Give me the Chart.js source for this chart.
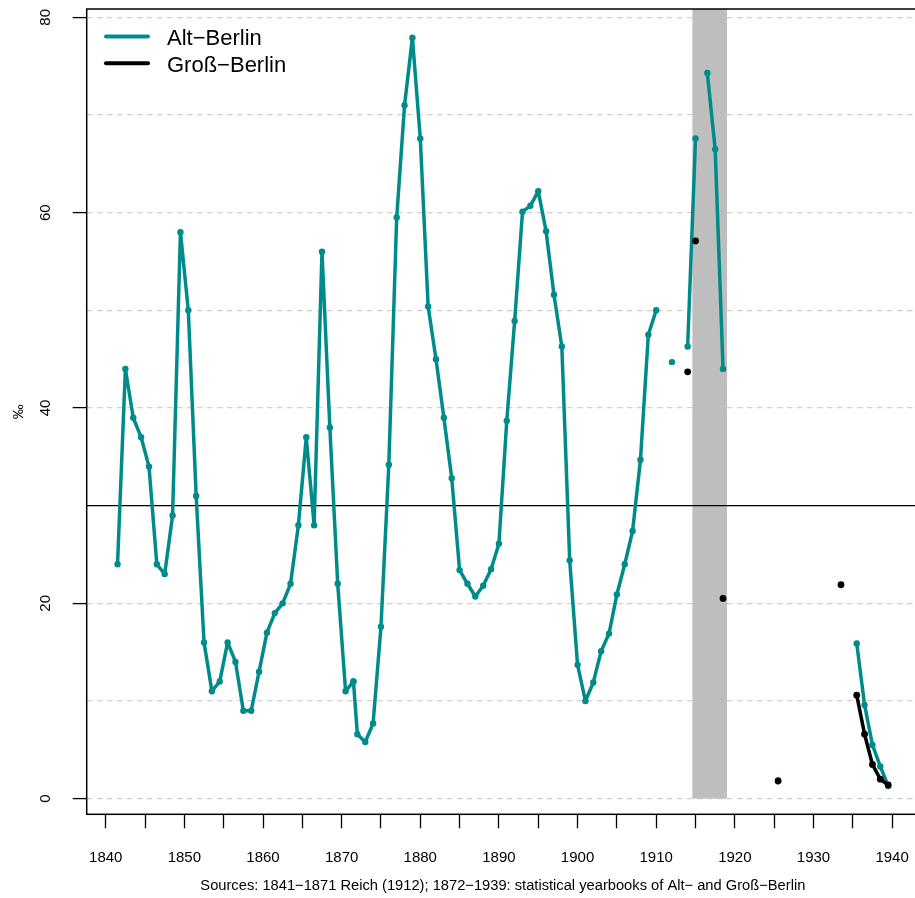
<!DOCTYPE html>
<html>
<head>
<meta charset="utf-8">
<script src="https://cdn.jsdelivr.net/npm/chart.js@4"></script>
<style>
  html, body { margin: 0; padding: 0; background: #fff; overflow: hidden; }
  #wrap { position: absolute; left: 0; top: 0; }
</style>
</head>
<body>
<div id="wrap"><canvas id="chart" width="923" height="898"></canvas></div>
<script>
// Alt-Berlin 1841-1871 (Reich 1912), plotted at mid-year
const reichYears = [1841.5, 1842.5, 1843.5, 1844.5, 1845.5, 1846.5, 1847.5, 1848.5, 1849.5, 1850.5,
                    1851.5, 1852.5, 1853.5, 1854.5, 1855.5, 1856.5, 1857.5, 1858.5, 1859.5, 1860.5,
                    1861.5, 1862.5, 1863.5, 1864.5, 1865.5, 1866.5, 1867.5, 1868.5, 1869.5, 1870.5, 1871.5];
const reichRate = [24, 44, 39, 37, 34, 24, 23, 29, 58, 50,
                   31, 16, 11, 12, 16, 14, 9, 9, 13, 17,
                   19, 20, 22, 28, 37, 28, 56, 38, 22, 11, 12];

// Alt-Berlin from the statistical yearbooks (null = gap in the line)
const altYears = [1872, 1873, 1874, 1875, 1876, 1877, 1878, 1879, 1880, 1881,
                  1882, 1883, 1884, 1885, 1886, 1887, 1888, 1889, 1890, 1891,
                  1892, 1893, 1894, 1895, 1896, 1897, 1898, 1899, 1900, 1901,
                  1902, 1903, 1904, 1905, 1906, 1907, 1908, 1909, 1910, 1911,
                  1912, 1913, 1914, 1915, 1916, 1916.5, 1917.5, 1918.5, 1920, 1925.5,
                  1930, 1935.5, 1936.5, 1937.5, 1938.5, 1939.5];
const altRate = [6.6, 5.8, 7.7, 17.6, 34.2, 59.5, 71.0, 77.9, 67.6, 50.4,
                 45.0, 39.0, 32.8, 23.4, 22.0, 20.7, 21.8, 23.5, 26.1, 38.7,
                 48.9, 60.1, 60.7, 62.2, 58.1, 51.6, 46.3, 24.4, 13.7, 10.0,
                 11.9, 15.1, 16.9, 20.9, 24.0, 27.4, 34.7, 47.5, 50.0, null,
                 44.7, null, 46.3, 67.6, null, 74.3, 66.5, 44.0, null, 1.9,
                 null, 15.9, 9.6, 5.5, 3.3, 1.3];

// Gross-Berlin
const grossYears = [1914, 1914.5, 1915, 1916, 1918.5, 1920, 1925.5, 1930, 1933.5, 1934.5,
                    1935.5, 1936.5, 1937.5, 1938.5, 1939.5];
const grossRate = [43.7, null, 57.1, null, 20.5, null, 1.8, null, 21.9, null,
                   10.6, 6.6, 3.5, 2.0, 1.4];

const xTicks = [1840, 1845, 1850, 1855, 1860, 1865, 1870, 1875, 1880, 1885, 1890,
                1895, 1900, 1905, 1910, 1915, 1920, 1925, 1930, 1935, 1940];
const yTicks = [0, 10, 20, 30, 40, 50, 60, 70, 80];
const warBand = [1914.6, 1919.0];
const refLine = 30;
const sourceNote = 'Sources: 1841\u22121871 Reich (1912); 1872\u22121939: statistical yearbooks of Alt\u2212 and Gro\u00df\u2212Berlin';

const TEAL = '#008b8b';
const FONT = '"Liberation Sans", Arial, Helvetica, sans-serif';

function pts(xs, ys) {
  return xs.map((x, i) => ({ x: x, y: ys[i] }));
}

function noPad(s) {
  s.paddingTop = 0; s.paddingBottom = 0; s.paddingLeft = 0; s.paddingRight = 0;
}

const decor = {
  id: 'decor',
  beforeDatasetsDraw(chart) {
    const { ctx, chartArea: a, scales: { x, y } } = chart;
    ctx.save();
    ctx.fillStyle = '#bebebe';
    const x0 = x.getPixelForValue(warBand[0]), x1 = x.getPixelForValue(warBand[1]);
    ctx.fillRect(x0, a.top, x1 - x0, y.getPixelForValue(0) - a.top);
    ctx.strokeStyle = '#000';
    ctx.lineWidth = 1.3;
    const yl = y.getPixelForValue(refLine);
    ctx.beginPath();
    ctx.moveTo(a.left, yl);
    ctx.lineTo(a.right, yl);
    ctx.stroke();
    ctx.restore();
  },
  afterDraw(chart) {
    const { ctx, chartArea: a } = chart;
    ctx.save();
    ctx.setLineDash([]);
    // box
    ctx.strokeStyle = '#000';
    ctx.lineWidth = 1.5;
    ctx.strokeRect(a.left, a.top, a.right - a.left, a.bottom - a.top);
    // legend
    const items = [['Alt\u2212Berlin', TEAL, 45], ['Gro\u00df\u2212Berlin', '#000', 71.7]];
    ctx.font = '22px ' + FONT;
    ctx.textBaseline = 'alphabetic';
    ctx.textAlign = 'left';
    items.forEach(([label, col, base]) => {
      ctx.strokeStyle = col;
      ctx.lineWidth = 4;
      ctx.lineCap = 'round';
      ctx.beginPath();
      ctx.moveTo(106, base - 8.5);
      ctx.lineTo(148, base - 8.5);
      ctx.stroke();
      ctx.fillStyle = '#000';
      ctx.fillText(label, 167, base);
    });
    ctx.restore();
  }
};

new Chart(document.getElementById('chart'), {
  type: 'line',
  data: {
    datasets: [
      {
        label: 'Alt-Berlin (Reich)',
        data: pts(reichYears, reichRate),
        borderColor: TEAL, backgroundColor: TEAL,
        borderWidth: 3.5, pointRadius: 3.2, pointBorderWidth: 0,
        pointBackgroundColor: TEAL, borderJoinStyle: 'round', borderCapStyle: 'round',
        order: 3
      },
      {
        label: 'Alt-Berlin',
        data: [{ x: reichYears[reichYears.length - 1], y: reichRate[reichRate.length - 1] }].concat(pts(altYears, altRate)),
        borderColor: TEAL, backgroundColor: TEAL,
        borderWidth: 3.5, pointRadius: 3.2, pointBorderWidth: 0,
        pointBackgroundColor: TEAL, borderJoinStyle: 'round', borderCapStyle: 'round',
        order: 2
      },
      {
        label: 'Gro\u00df-Berlin',
        data: pts(grossYears, grossRate),
        borderColor: '#000', backgroundColor: '#000',
        borderWidth: 3.5, pointRadius: 3.4, pointBorderWidth: 0,
        pointBackgroundColor: '#000', borderJoinStyle: 'round', borderCapStyle: 'round',
        order: 1
      }
    ]
  },
  options: {
    responsive: false,
    animation: false,
    devicePixelRatio: 1,
    spanGaps: false,
    layout: { padding: { top: 9, right: 0.5, left: 0, bottom: 0 } },
    plugins: { legend: { display: false }, tooltip: { enabled: false } },
    scales: {
      x: {
        type: 'linear',
        min: 1837.58,
        max: 1943.42,
        afterBuildTicks: s => { s.ticks = xTicks.map(v => ({ value: v })); },
        afterFit: s => { s.height = 83.7; noPad(s); },
        grid: { drawOnChartArea: false, drawTicks: true, tickLength: 14, tickColor: '#000', tickWidth: 1.3 },
        border: { display: false },
        ticks: {
          autoSkip: false, maxRotation: 0, minRotation: 0, padding: 21, color: '#000',
          font: { size: 15, family: FONT },
          callback: v => (v % 10 === 0 ? String(v) : '')
        },
        title: {
          display: true, text: sourceNote, color: '#000',
          font: { size: 14.7, family: FONT }, padding: { top: 0, bottom: 3 }
        }
      },
      y: {
        min: -1.6,
        max: 80.85,
        afterBuildTicks: s => { s.ticks = yTicks.map(v => ({ value: v })); },
        afterFit: s => { s.width = 86.7; noPad(s); },
        grid: {
          color: '#d0d0d0', lineWidth: 1.2, drawTicks: true, tickLength: 14, tickWidth: 1.3,
          tickColor: c => (c.tick && c.tick.value % 20 === 0 ? '#000' : 'rgba(0,0,0,0)')
        },
        border: { display: false, dash: [5.5, 4.5] },
        ticks: {
          autoSkip: false, minRotation: 90, maxRotation: 90, crossAlign: 'center', padding: 18,
          color: '#000', font: { size: 15, family: FONT },
          callback: v => (v % 20 === 0 ? String(v) : '')
        },
        title: {
          display: true, text: '\u2030', color: '#000',
          font: { size: 15, family: FONT }, padding: { top: 10, bottom: 0 }
        }
      }
    }
  },
  plugins: [decor]
});
</script>
</body>
</html>
